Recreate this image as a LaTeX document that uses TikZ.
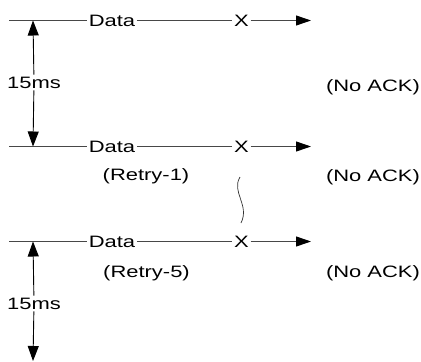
\documentclass[tikz,border=0pt]{standalone}
\usepackage{fontspec}
\setmainfont{Liberation Sans}[FakeStretch=1.33]
\usetikzlibrary{arrows.meta}
\begin{document}
\begin{tikzpicture}[x=1pt,y=-1pt,
  every node/.style={font=\fontsize{16.5}{19}\selectfont, inner sep=1pt},
  wire/.style={draw=black!72, line width=0.9pt},
  onwire/.style={fill=white, inner sep=1.5pt},
  sendtip/.style={-{Triangle[length=15pt,width=10pt,color=black]}},
  span/.style={black, line width=0.9pt, -{Triangle[length=15pt,width=11pt]}},
  note/.style={inner sep=0pt},
  gap/.style={draw=black!80, line width=0.7pt}]
\useasboundingbox (0,0) rectangle (421,362);

% three transmissions, each lost at X
\foreach \n/\y in {a/20.5, b/146.5, c/241.5} {
  \coordinate (s\n) at (9,\y);
  \coordinate (e\n) at (311,\y);
  \node[onwire] (d\n) at (112,\y) {Data};
  \node[onwire] (x\n) at (241.5,\y) {X};
  \path[wire] (s\n) -- (d\n) -- (x\n);
  \draw[wire, sendtip] (x\n) -- (e\n);
}

% labels under the transmissions
\node[note] (r1) at (146,176) {(Retry-1)};
\node[note] (r5) at (146.5,273) {(Retry-5)};
\node[note] (n1) at (373,87) {(No ACK)};
\node[note] (n2) at (373,177) {(No ACK)};
\node[note] (n3) at (373,273) {(No ACK)};

% retry interval markers
\coordinate (ta) at (33,20.5);
\coordinate (tb) at (33,146.5);
\coordinate (tc) at (33,241.5);
\coordinate (td) at (33,361);
\node[fill=white, inner sep=2pt] (t1) at (34,82.5) {15ms};
\node[fill=white, inner sep=2pt] (t2) at (34,303.5) {15ms};
\draw[span] (t1) -- (ta);
\draw[span] (t1) -- (tb);
\draw[span] (t2) -- (tc);
\draw[span] (t2) -- (td);

% break mark between Retry-1 and Retry-5
\coordinate (w1) at (240,177);
\coordinate (w2) at (241,223);
\draw[gap] (w1) .. controls (231,192) and (250,205) .. (w2);
\end{tikzpicture}
\end{document}
